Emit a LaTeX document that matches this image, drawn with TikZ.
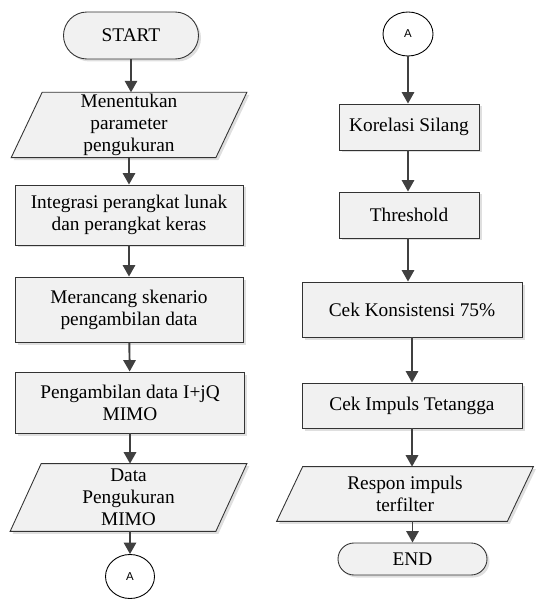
\documentclass[tikz,border=0pt]{standalone}
\usepackage{fontspec}
\setmainfont{Liberation Serif}
\newfontfamily\conffont{Liberation Sans}
\usepackage{xcolor}
\usepackage{tikz}
\usetikzlibrary{shapes.geometric,shadows,arrows.meta,backgrounds}

\definecolor{boxfill}{HTML}{F1F1F1}
\definecolor{linegray}{HTML}{404040}

% jajaran genjang di belakang node teks
\newcommand{\iopath}[2]{\draw[iobox] ([xshift=#2]#1.north west) -- ([xshift=#2]#1.north east) -- ([xshift=-#2]#1.south east) -- ([xshift=-#2]#1.south west) -- cycle;}

\begin{document}
\begin{tikzpicture}[
	base/.style={draw=black!80, line width=0.5pt, fill=boxfill, align=center, inner sep=1pt,
		drop shadow={opacity=0.25, shadow xshift=0.05cm, shadow yshift=-0.05cm}},
	proc/.style={base, rectangle, minimum width=#1, minimum height=1.24cm},
	term/.style={base, rectangle, rounded corners=0.32cm, minimum width=2.9cm, minimum height=0.66cm},
	io/.style={rectangle, align=center, inner sep=1pt, minimum width=#1},
	iobox/.style={draw=black!80, line width=0.5pt, fill=boxfill,
		drop shadow={opacity=0.25, shadow xshift=0.05cm, shadow yshift=-0.05cm}},
	conn/.style={draw=black, line width=0.5pt, fill=white, ellipse, inner sep=0pt, font=\conffont\fontsize{6.5}{7}\selectfont},
	flow/.style={draw=linegray, line width=1.1pt, -{Triangle[width=7pt,length=6.5pt]}}
	]
	\fontsize{11}{12.4}\selectfont
	\useasboundingbox (0,0) rectangle (10.7,-12.02);
	% kolom kiri
	\node[term, minimum width=2.7cm, minimum height=0.94cm, rounded corners=0.47cm] (start) at (2.62,-0.71) {START};
	\node[io=4.08cm, minimum height=1.28cm] (param) at (2.58,-2.5) {Menentukan\\parameter\\pengukuran};
	\node[proc=4.56cm, minimum height=1.2cm] (integ) at (2.58,-4.3) {Integrasi perangkat lunak\\dan perangkat keras};
	\node[proc=4.56cm, minimum height=1.3cm] (rancang) at (2.58,-6.19) {Merancang skenario\\pengambilan data};
	\node[proc=4.58cm, minimum height=1.22cm] (ambil) at (2.6,-8.05) {Pengambilan data I+jQ\\MIMO};
	\node[io=4.1cm, minimum height=1.34cm] (dataukur) at (2.57,-9.95) {Data\\Pengukuran\\MIMO};
	\node[conn, minimum width=0.98cm, minimum height=0.88cm] (conA) at (2.6,-11.53) {A};
	% kolom kanan
	\node[conn, minimum width=1.0cm, minimum height=0.88cm] (conB) at (8.16,-0.68) {A};
	\node[proc=2.8cm, minimum height=0.92cm] (korelasi) at (8.18,-2.54) {Korelasi Silang};
	\node[proc=2.8cm, minimum height=0.92cm] (thres) at (8.18,-4.3) {Threshold};
	\node[proc=4.4cm, minimum height=1.1cm] (konsis) at (8.24,-6.19) {Cek Konsistensi 75\%};
	\node[proc=4.4cm, minimum height=0.9cm] (tetangga) at (8.24,-8.11) {Cek Impuls Tetangga};
	\node[io=4.6cm, minimum height=1.08cm] (respon) at (8.1,-9.88) {Respon impuls\\terfilter};
	\node[term, minimum width=2.98cm, minimum height=0.64cm] (end) at (8.25,-11.18) {END};
	\begin{scope}[on background layer]
		\iopath{param}{0.31cm}
		\iopath{dataukur}{0.31cm}
		\iopath{respon}{0.26cm}
	\end{scope}
	% panah
	\draw[flow] (start) -- (start |- param.north);
	\draw[flow] (param.south -| integ) -- (integ);
	\draw[flow] (integ) -- (rancang);
	\draw[flow] (rancang) -- (ambil);
	\draw[flow] (ambil) -- (ambil |- dataukur.north);
	\draw[flow] (dataukur.south -| conA) -- (conA);
	\draw[flow] (conB) -- (conB |- korelasi.north);
	\draw[flow] (korelasi.south -| conB) -- (conB |- thres.north);
	\draw[flow] (thres.south -| conB) -- (conB |- konsis.north);
	\draw[flow] (konsis) -- (tetangga);
	\draw[flow] (tetangga.south) -- (tetangga |- respon.north);
	\draw[flow] (respon.south -| end) -- (end);
\end{tikzpicture}
\end{document}
